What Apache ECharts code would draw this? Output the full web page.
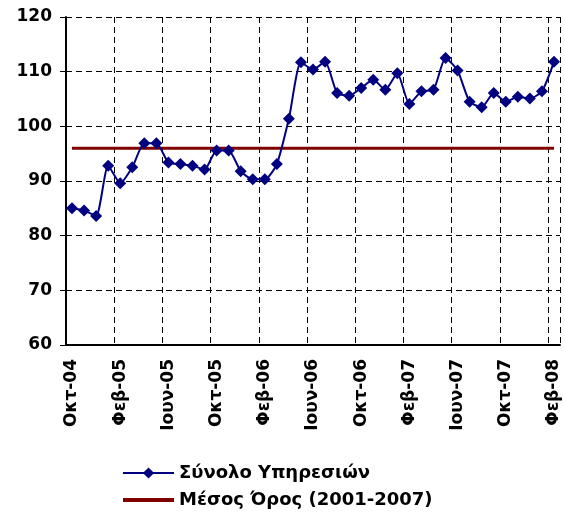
<!DOCTYPE html>
<html>
<head>
<meta charset="utf-8">
<script src="https://cdn.jsdelivr.net/npm/echarts@6/dist/echarts.min.js"></script>
<style>
  html, body { margin: 0; padding: 0; background: #fff; }
  #chart { width: 565px; height: 513px; }
</style>
</head>
<body>
<div id="chart"></div>
<script>
// μήνες Οκτ-04 .. Φεβ-08
var months = [
  'Οκτ-04', 'Νοε-04', 'Δεκ-04', 'Ιαν-05', 'Φεβ-05', 'Μαρ-05', 'Απρ-05', 'Μαϊ-05',
  'Ιουν-05', 'Ιουλ-05', 'Αυγ-05', 'Σεπ-05', 'Οκτ-05', 'Νοε-05', 'Δεκ-05', 'Ιαν-06',
  'Φεβ-06', 'Μαρ-06', 'Απρ-06', 'Μαϊ-06', 'Ιουν-06', 'Ιουλ-06', 'Αυγ-06', 'Σεπ-06',
  'Οκτ-06', 'Νοε-06', 'Δεκ-06', 'Ιαν-07', 'Φεβ-07', 'Μαρ-07', 'Απρ-07', 'Μαϊ-07',
  'Ιουν-07', 'Ιουλ-07', 'Αυγ-07', 'Σεπ-07', 'Οκτ-07', 'Νοε-07', 'Δεκ-07', 'Ιαν-08',
  'Φεβ-08'
];

var services = [
  85.0, 84.6, 83.6, 92.8, 89.6, 92.5, 96.9, 96.9,
  93.4, 93.1, 92.8, 92.1, 95.6, 95.6, 91.8, 90.3,
  90.3, 93.1, 101.4, 111.7, 110.4, 111.8, 106.1, 105.6,
  107.0, 108.5, 106.7, 109.7, 104.1, 106.4, 106.7, 112.5,
  110.2, 104.5, 103.5, 106.1, 104.5, 105.4, 105.1, 106.4,
  111.8
];

var meanValue = 96.0;
var meanLine = months.map(function() { return meanValue; });

var seriesNames = ['Σύνολο Υπηρεσιών', 'Μέσος Όρος (2001-2007)'];

var chart = echarts.init(document.getElementById('chart'));
var font = 'DejaVu Sans';

chart.setOption({
  animation: false,
  grid: { left: 66, right: 5, top: 17, bottom: 168 },
  legend: {
    orient: 'vertical',
    left: 121,
    top: 464,
    height: 80,
    padding: 0,
    itemWidth: 51,
    itemHeight: 14,
    itemGap: 9,
    data: [
      { name: seriesNames[0] },
      { name: seriesNames[1], itemStyle: { opacity: 0 }, lineStyle: { width: 4 } }
    ],
    textStyle: { fontFamily: font, fontWeight: 'bold', fontSize: 18, color: '#000' }
  },
  xAxis: {
    type: 'category',
    data: months,
    boundaryGap: true,
    axisLine: { lineStyle: { color: '#000', width: 2 } },
    axisTick: { interval: 3, length: 6, lineStyle: { color: '#000' } },
    axisLabel: {
      interval: 3,
      rotate: 90,
      margin: 14,
      fontFamily: font,
      fontWeight: 'bold',
      fontSize: 17,
      color: '#000'
    },
    splitLine: {
      show: true,
      interval: 3,
      lineStyle: { color: '#000', type: [6, 4], width: 1 }
    }
  },
  yAxis: {
    type: 'value',
    min: 60,
    max: 120,
    interval: 10,
    axisLine: { show: true, lineStyle: { color: '#000', width: 2 } },
    axisTick: { show: true, length: 6, lineStyle: { color: '#000' } },
    axisLabel: {
      margin: 14,
      fontFamily: font,
      fontWeight: 'bold',
      fontSize: 17,
      color: '#000'
    },
    splitLine: { lineStyle: { color: '#000', type: [6, 4], width: 1 } }
  },
  series: [
    {
      name: seriesNames[0],
      type: 'line',
      data: services,
      smooth: 0.2,
      showAllSymbol: true,
      symbol: 'diamond',
      symbolSize: 12,
      z: 3,
      itemStyle: { color: '#000080' },
      lineStyle: { color: '#000080', width: 2 }
    },
    {
      name: seriesNames[1],
      type: 'line',
      data: meanLine,
      symbol: 'none',
      z: 2,
      itemStyle: { color: '#800000' },
      lineStyle: { color: '#800000', width: 3 }
    }
  ]
});
</script>
</body>
</html>
